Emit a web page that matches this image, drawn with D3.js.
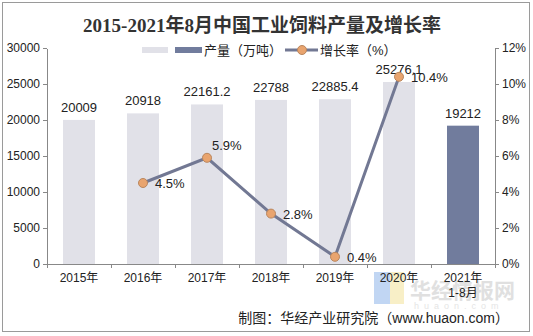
<!DOCTYPE html>
<html>
<head>
<meta charset="utf-8">
<style>
  body { margin: 0; background: #fff; }
  text { font-family: "Liberation Sans", Arial, "Noto Sans CJK SC", sans-serif; }
  .axis path, .axis line { stroke: #888; shape-rendering: crispEdges; }
  .axis text { font-size: 12px; fill: #222; }
</style>
</head>
<body>
<div class="svg_container"></div>
<script src="https://cdn.jsdelivr.net/npm/d3@7/dist/d3.min.js"></script>
<script>
// data
var years = ["2015年", "2016年", "2017年", "2018年", "2019年", "2020年", "2021年"];
var output = [20009, 20918, 22161.2, 22788, 22885.4, 25276.1, 19212];
var outputLabels = ["20009", "20918", "22161.2", "22788", "22885.4", "25276.1", "19212"];
var growthYears = ["2016年", "2017年", "2018年", "2019年", "2020年"];
var growth = [4.5, 5.9, 2.8, 0.4, 10.4];
var leftTicks = [0, 5000, 10000, 15000, 20000, 25000, 30000];
var rightTicks = [0, 2, 4, 6, 8, 10, 12];

var W = 533, H = 336;
var margin = { top: 48, right: 38, bottom: 72, left: 47 };
var plotW = W - margin.left - margin.right,
    plotH = H - margin.top - margin.bottom;

var svg = d3.select(".svg_container").append("svg")
  .attr("width", W)
  .attr("height", H);

// outer frame
svg.append("rect")
  .attr("x", 2.5).attr("y", 2.5)
  .attr("width", 527).attr("height", 329)
  .attr("fill", "none").attr("stroke", "#9a9a9a");

// watermark (behind everything else)
var wm = svg.append("g").attr("opacity", 0.55);
wm.append("rect").attr("x", 374).attr("y", 272).attr("width", 16).attr("height", 32).attr("fill", "#8fb6ea");
wm.append("rect").attr("x", 390).attr("y", 272).attr("width", 14).attr("height", 32).attr("fill", "#f3e29a");
wm.append("text").attr("x", 410).attr("y", 298).style("font-size", "21px").style("font-weight", "bold")
  .attr("fill", "#c8c8c8").text("华经情报网");
wm.append("text").attr("x", 414).attr("y", 309).style("font-size", "9px").style("letter-spacing", "5px")
  .attr("fill", "#d0d0d0").text("huaon.com");

// title
svg.append("text")
  .attr("x", 262).attr("y", 32)
  .attr("text-anchor", "middle")
  .style("font-family", "'Liberation Serif', 'Noto Sans CJK SC', serif")
  .style("font-size", "19px")
  .style("font-weight", "bold")
  .attr("fill", "#333")
  .text("2015-2021年8月中国工业饲料产量及增长率");

var g = svg.append("g")
  .attr("transform", "translate(" + margin.left + "," + margin.top + ")");

var x = d3.scaleBand()
  .domain(years)
  .range([0, plotW])
  .paddingInner(0.5)
  .paddingOuter(0.25);
var y = d3.scaleLinear().domain([0, 30000]).range([plotH, 0]);
var y2 = d3.scaleLinear().domain([0, 12]).range([plotH, 0]);

// bars
g.selectAll(".bar")
  .data(output)
  .enter().append("rect")
  .attr("class", "bar")
  .attr("x", function(d, i) { return x(years[i]); })
  .attr("width", x.bandwidth())
  .attr("y", function(d) { return y(d); })
  .attr("height", function(d) { return plotH - y(d); })
  .attr("fill", function(d, i) { return i === years.length - 1 ? "#717c9d" : "#e1e1e8"; });

// bar labels
g.selectAll(".barlabel")
  .data(output)
  .enter().append("text")
  .attr("x", function(d, i) { return x(years[i]) + x.bandwidth() / 2; })
  .attr("y", function(d) { return y(d) - 8; })
  .attr("text-anchor", "middle")
  .style("font-size", "13px")
  .attr("fill", "#222")
  .text(function(d, i) { return outputLabels[i]; });

// left axis
g.append("g")
  .attr("class", "axis")
  .call(d3.axisLeft(y).tickValues(leftTicks).tickSize(4).tickSizeOuter(0)
    .tickFormat(d3.format("d")));

// right axis
g.append("g")
  .attr("class", "axis")
  .attr("transform", "translate(" + plotW + ",0)")
  .call(d3.axisRight(y2).tickValues(rightTicks).tickSize(4).tickSizeOuter(0)
    .tickFormat(function(d) { return d + "%"; }));

// x axis: line + ticks on band boundaries
var xAxis = g.append("g").attr("class", "axis")
  .attr("transform", "translate(0," + plotH + ")");
xAxis.append("line").attr("x1", 0).attr("x2", plotW);
var bounds = years.map(function(d) { return x(d) - x.step() * x.paddingOuter(); });
bounds.push(plotW);
xAxis.selectAll(".tk").data(bounds).enter().append("line")
  .attr("x1", function(d) { return d; }).attr("x2", function(d) { return d; })
  .attr("y1", 0).attr("y2", 4);
xAxis.selectAll(".lbl").data(years).enter().append("text")
  .attr("x", function(d) { return x(d) + x.bandwidth() / 2; })
  .attr("y", 18)
  .attr("text-anchor", "middle")
  .style("font-size", "12px")
  .text(function(d) { return d; });
xAxis.append("text")
  .attr("x", x("2021年") + x.bandwidth() / 2)
  .attr("y", 33)
  .attr("text-anchor", "middle")
  .style("font-size", "12px")
  .text("1-8月");

// growth line
var cx = function(d, i) { return x(growthYears[i]) + x.bandwidth() / 2; };
var line = d3.line()
  .x(function(d, i) { return cx(d, i); })
  .y(function(d) { return y2(d); });
g.append("path")
  .datum(growth)
  .attr("d", line)
  .attr("fill", "none")
  .attr("stroke", "#727893")
  .attr("stroke-width", 3);
g.selectAll(".dot")
  .data(growth)
  .enter().append("circle")
  .attr("cx", cx)
  .attr("cy", function(d) { return y2(d); })
  .attr("r", 4.5)
  .attr("fill", "#e9a46e")
  .attr("stroke", "#b9865e")
  .attr("stroke-width", 1);
g.selectAll(".glabel")
  .data(growth)
  .enter().append("text")
  .attr("x", function(d, i) { return cx(d, i) + (i === 1 ? 5 : 12); })
  .attr("y", function(d, i) { return y2(d) + (i === 1 ? -8 : 5); })
  .style("font-size", "13px")
  .attr("fill", "#222")
  .text(function(d) { return d.toFixed(1) + "%"; });

// legend
var lg = svg.append("g");
lg.append("rect").attr("x", 142).attr("y", 47).attr("width", 26).attr("height", 6).attr("fill", "#e1e1e8");
lg.append("rect").attr("x", 175).attr("y", 47).attr("width", 27).attr("height", 6).attr("fill", "#717c9d");
lg.append("text").attr("x", 204).attr("y", 55).style("font-size", "13px").attr("fill", "#222").text("产量（万吨）");
lg.append("line").attr("x1", 285).attr("x2", 318).attr("y1", 50).attr("y2", 50)
  .attr("stroke", "#727893").attr("stroke-width", 3);
lg.append("circle").attr("cx", 302).attr("cy", 50).attr("r", 4.5)
  .attr("fill", "#e9a46e").attr("stroke", "#b9865e");
lg.append("text").attr("x", 320).attr("y", 55).style("font-size", "13px").attr("fill", "#222").text("增长率（%）");

// footer
svg.append("text")
  .attr("x", 509).attr("y", 323)
  .attr("text-anchor", "end")
  .style("font-size", "14px")
  .attr("fill", "#222")
  .text("制图：华经产业研究院（www.huaon.com）");
</script>
</body>
</html>
